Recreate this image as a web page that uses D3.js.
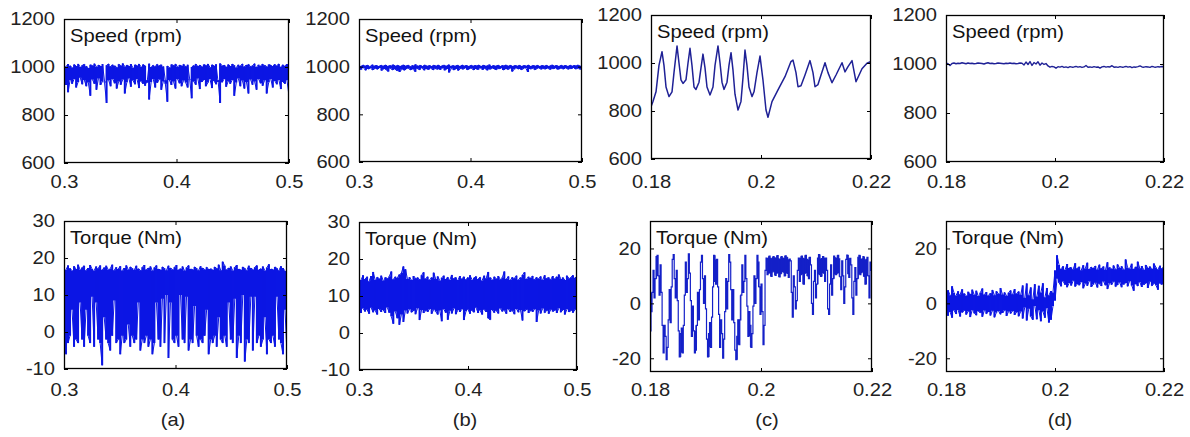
<!DOCTYPE html>
<html>
<head>
<meta charset="utf-8">
<script src="https://cdn.jsdelivr.net/npm/d3@7"></script>
<style>
  body { margin: 0; background: #fff; }
  svg { display: block; }
</style>
</head>
<body>
<svg id="fig" width="1190" height="437"></svg>
<script>
// ---------- axis ticks and labels ----------
const timeTicksAB = [0.3, 0.4, 0.5];
const timeTicksCD = [0.18, 0.2, 0.22];
const speedTicks = [600, 800, 1000, 1200];
const torqueTicksAB = [-10, 0, 10, 20, 30];
const torqueTicksCD = [-20, 0, 20];
const speedTitle = "Speed (rpm)";
const torqueTitle = "Torque (Nm)";
const caseLabels = ["(a)", "(b)", "(c)", "(d)"];

// ---------- (a) speed, per-sample max / min over 0.3 .. 0.5 s ----------
const speedA_hi = [
  1008,1002,1012,1005,998,1010,1004,1013,1000,1007,
  1011,1003,996,1009,1006,1014,1001,1008,1004,1012,
  940,1007,1013,1003,1009,1005,999,1011,1006,1015,
  1002,1008,1004,1012,997,1009,1006,1013,1001,1010,
  1005,935,1014,1000,1007,1003,1011,1006,1009,1002,
  945,1004,998,1010,1007,1013,1001,1008,1005,1011,
  1003,1009,950,1000,1006,1012,1004,1008,1002,1010,
  1007,1013,999,1009,1005,1011,938,1015,1006,1008,
  1001,1010,1004,1012,1007,998,1009,1005,1013,1002,
  1008,1011,1003,1006,1014,1000,1009,1005,1012,1007,
  1002,1010,1008,1004,1011,1006,1013,1001,1009,1005,
  1012,1003
];
const speedA_lo = [
  940,925,895,945,930,950,915,938,955,928,
  946,920,935,880,948,930,905,952,925,940,
  935,850,945,920,950,932,910,940,926,948,
  890,936,952,918,944,928,950,912,940,930,
  922,945,865,938,950,915,934,948,905,940,
  930,855,946,925,940,910,950,932,920,944,
  935,915,948,870,940,926,952,908,938,946,
  920,935,950,912,942,928,945,850,936,950,
  918,940,930,946,880,935,952,920,944,910,
  938,890,948,926,940,905,950,932,922,945,
  890,936,950,915,942,928,946,908,938,930,
  945,880
];

// ---------- (a) torque ----------
const torqueA_hi = [
  17.5,16.8,18.0,17.2,16.6,17.8,17.0,18.2,16.9,17.4,
  17.9,16.7,17.3,18.1,17.0,16.6,17.7,17.2,18.0,16.8,
  17.4,17.9,16.9,17.1,18.2,16.7,17.5,17.0,17.8,16.6,
  17.3,18.0,16.9,17.6,17.2,16.8,17.9,17.1,16.7,17.5,
  18.1,16.9,17.3,17.7,16.6,17.4,18.0,17.0,16.8,17.6,
  17.2,16.7,17.9,17.3,16.9,17.5,18.1,16.8,17.1,17.7,
  16.6,17.4,18.0,17.0,16.9,17.6,17.2,16.7,17.8,17.3,
  16.9,17.5,17.0,17.1,16.8,17.6,17.2,18.2,16.7,19.0,
  17.9,16.9,17.3,17.7,16.6,17.5,18.1,17.0,16.8,17.6,
  17.2,16.7,17.9,17.3,16.9,17.5,18.0,16.8,17.1,17.7,
  16.6,17.4,18.3,17.0,16.9,17.6,17.2,16.7,17.8,17.3,
  16.5,16.0
];
const torqueA_lo = [
  -2,-6,-3,-1,6,-4,-2,-3,8,-2,
  -4,6,-1,-3,9.5,-4,8,-2,-3,-9,
  4,-2,-3,-5,-1,8.5,-3,-2,-6,-1,
  -3,-2,2,-4,-1,-3,-2,8,-5,-2,
  -3,-1,-4,-2,-6,-3,8,-2,-4,9,
  -3,10,-7,8,-2,-3,-1,-4,10,-2,
  -3,9.5,-5,-2,-3,7,-1,-4,-2,-3,
  -1,6,-6,-2,-3,-1,-4,4,-2,-3,
  -1,-4,8,-2,-3,9,-7,-1,-3,10,
  -8,-2,-3,9.5,-5,9.5,-3,-1,-4,-2,
  4,-6,-2,-3,-1,-4,9.5,-2,-3,-6,
  6,-6
];

// ---------- (b) speed ----------
const speedB_hi = [
  1005,1003,1007,1004,1006,1002,1008,1004,1005,1003,
  1006,1004,1007,1003,1005,1008,1004,1006,1003,1005,
  1007,1004,1006,1002,1005,1009,1004,1006,1003,1007,
  1004,1005,1003,1006,1004,1007,1003,1005,1006,1004,
  1008,1003,1005,1004,1006,1003,1007,1004,1005,1003,
  1006,1004,1005,1007,1003,1006,1004,1005,1008,1003,
  1005,1004,1006,1003,1005,1007,1004,1006,1003,1005,
  1004,1006,1003,1005,1004,1007,1003,1005,1004,1006,
  1003,1005,1004,1006,1003,1005,1007,1004,1005,1003,
  1006,1004,1005,1003,1006,1004,1005,1007,1004,1005
];
const speedB_lo = [
  992,988,994,985,990,993,986,991,989,994,
  984,990,987,980,992,986,989,983,978,988,
  985,990,992,986,989,979,991,987,993,985,
  990,988,992,986,991,989,987,993,985,990,
  976,992,986,990,984,991,989,993,987,990,
  992,986,990,988,993,987,991,985,989,992,
  990,987,991,993,986,990,988,992,980,989,
  993,990,987,991,994,978,990,992,987,991,
  993,989,991,990,992,988,991,993,989,990,
  992,990,993,989,991,994,990,992,989,991
];

// ---------- (b) torque ----------
const torqueB_hi = [
  15.0,14.3,15.6,14.6,15.2,14.0,15.4,16.5,14.4,15.1,
  14.7,15.5,14.2,15.0,14.8,15.3,16.6,14.5,15.2,14.9,
  15.8,16.2,18.0,17.2,14.6,15.1,14.3,15.4,14.8,15.0,
  14.5,15.6,16.4,14.7,15.2,14.4,15.0,16.3,14.6,15.3,
  14.2,14.9,15.5,14.6,15.1,14.4,15.7,14.8,15.0,14.3,
  15.4,14.7,15.2,14.5,15.0,15.6,14.4,14.9,15.3,14.6,
  15.1,14.2,15.5,14.8,16.5,15.0,14.4,15.2,14.7,15.4,
  14.5,15.0,16.6,14.6,15.3,14.3,15.1,14.8,15.5,14.4,
  15.0,15.7,16.4,14.6,15.2,14.9,15.4,14.5,15.1,14.7,
  15.3,14.4,15.6,14.8,15.0,14.5,15.4,14.7,15.2,15.8,
  14.6,15.0,14.3,15.5,14.8,15.1,15.6,14.9,15.3
];
const torqueB_lo = [
  6.0,5.4,6.6,5.8,6.3,5.2,6.8,5.6,6.1,5.0,
  6.5,5.7,6.2,5.4,6.9,5.5,4.5,2.5,5.8,4.0,
  2.2,5.0,3.0,6.1,5.3,6.4,5.6,6.0,5.1,6.7,
  3.5,6.2,5.4,6.0,5.7,6.5,5.2,6.3,5.8,5.0,
  6.1,3.2,6.4,5.5,3.6,6.0,5.3,6.6,5.1,6.2,
  5.7,6.4,3.5,5.9,6.3,5.2,6.0,5.6,6.8,5.4,
  6.1,5.0,6.3,5.7,4.0,3.6,6.2,5.5,6.0,5.3,
  6.6,5.8,6.1,5.2,6.4,5.7,6.0,5.1,6.5,5.6,
  6.2,3.4,5.9,6.3,5.4,6.0,5.7,6.4,3.0,6.1,
  5.3,6.6,5.5,6.0,5.2,6.3,5.8,6.1,5.4,6.7,
  5.6,6.2,5.0,6.4,5.7,6.0,5.5,6.3,5.2
];

// ---------- (c) speed, sampled trace 0.18 .. 0.22 s ----------
const speedC_t = [
  0.18000,0.18036,0.18091,0.18145,0.18200,0.18236,0.18273,0.18327,0.18382,0.18418,
  0.18473,0.18509,0.18545,0.18582,0.18636,0.18673,0.18709,0.18745,0.18782,0.18818,
  0.18873,0.18909,0.18945,0.18982,0.19018,0.19073,0.19127,0.19164,0.19218,0.19255,
  0.19291,0.19327,0.19382,0.19418,0.19455,0.19491,0.19527,0.19582,0.19636,0.19673,
  0.19709,0.19745,0.19782,0.19836,0.19873,0.19927,0.19982,0.20036,0.20091,0.20127,
  0.20200,0.20309,0.20436,0.20545,0.20582,0.20636,0.20673,0.20727,0.20800,0.20891,
  0.20945,0.20982,0.21036,0.21091,0.21164,0.21218,0.21291,0.21364,0.21473,0.21527,
  0.21582,0.21655,0.21727,0.21836,0.21927,0.22000
];
const speedC_v = [
  818,840,880,990,1047,990,900,860,880,960,
  1071,1000,930,915,930,1000,1061,990,900,890,
  920,980,1037,980,900,867,900,990,1071,1000,
  920,890,920,990,1043,970,870,804,840,940,
  1054,990,900,860,880,960,1029,929,804,774,
  839,888,943,1006,1012,960,901,905,950,1010,
  960,901,910,950,1001,960,918,950,1001,963,
  985,1010,922,976,999,1006
];

// ---------- (c) torque ----------
const torqueC_hi = [
  -1,4,12,17,17.5,14,4,-8,-12,-6,
  5,16,17.8,12,1,-11,-9,3,15,18,
  11,-1,-10,-8,4,15,17.5,10,-2,-11,
  -7,6,17.5,16,6,-6,-11,-3,9,17.8,
  15,5,-7,-12,-6,3,14,17.5,9,-3,
  -8,-1,10,17.5,15,7,-3,12,16.5,17.2,
  16.4,17.0,16.6,17.4,16.2,17.0,16.5,17.3,16.8,16.1,
  15.5,10,6,12,16.5,17.2,16.4,17.5,16.0,16.8,
  14,8,12,16.5,17.8,16.3,17.0,16.5,12,7,
  14,17.2,16.6,17.5,16.2,15.5,10,16,17.6,16.4,
  14,8,13,16.8,17.5,16.2,17.0,16.0,16.8,15,
  12
];
const torqueC_lo = [
  -10,-3,2,9,10,3,-8,-18,-20.5,-16,
  -7,6,9,2,-10,-19.5,-18,-8,4,9,
  1,-12,-18,-17,-6,5,9,0,-13,-19.5,
  -16,-5,8,7,-4,-16,-20,-13,-2,8,
  5,-6,-17,-20.5,-15,-6,4,8,-1,-12,
  -16,-11,0,9,6,-4,-15,-8,10.5,11,
  9.8,11.5,10.2,11.0,9.6,10.8,11.4,10.0,10.9,9.5,
  4,-5,-2,1,8,10.5,7,11,10,9,
  0,-4,2,7,10.5,9.8,11,8,-2,-4,
  3,9,10.5,11,9.7,5,0,6,10.8,9.5,
  2,-4,3,9,10.5,11.2,9.8,7,10,2,
  -3
];

// ---------- (d) speed ----------
const speedD_v = [
  1003,1001,994,
  1002,1004,1001,1003,1002,1005,1003,1001,1004,1002,1003,1001,1002,1004,1003,1002,1000,1003,
  1005,1002,1003,1001,1002,1004,1003,1002,1001,1003,1002,1004,1002,1003,1001,1002,1004,1003,
  996,1008,998,1010,994,1006,1000,1009,995,1004,998,1002,
  992,987,990,
  988,983,989,987,990,986,988,985,989,987,
  988,990,987,989,986,988,994,987,988,986,
  989,987,988,983,988,990,987,989,988,993,
  987,988,986,989,987,988,990,987,989,985,
  988,987,989,992,988,987,989,988,986,990,
  988,987,989,988,990,989
];

// ---------- (d) torque ----------
const torqueD_hi = [
  3.5,4.8,3.0,6.2,3.8,2.9,4.4,3.3,5.1,3.6,
  2.8,4.2,3.4,5.0,3.1,4.6,2.7,3.9,5.4,3.2,
  4.1,2.9,3.7,4.9,3.0,4.4,3.5,5.6,3.2,4.0,
  2.8,3.9,4.7,3.3,5.2,3.6,4.3,3.1,
  6.5,2.0,7.2,3.0,5.8,1.5,7.0,2.5,6.4,4.0,7.3,2.2,5.6,3.0,4.5,
  4,12,17.5,
  14.0,12.6,13.5,12.2,14.3,12.9,13.1,12.4,14.6,12.8,
  13.3,12.1,13.9,12.7,14.8,12.5,13.2,12.9,13.6,12.3,
  14.1,12.8,13.4,12.2,15.0,13.1,12.6,13.8,12.4,14.2,
  12.9,13.5,12.3,16.0,13.0,12.7,14.4,12.5,13.3,15.2,
  12.8,13.6,12.2,14.0,12.9,13.4,12.6,14.5,13.1,12.4,
  13.7,12.8,13.2
];
const torqueD_lo = [
  -2.8,-4.5,-3.1,-5.2,-2.6,-3.9,-2.4,-4.8,-3.3,-2.7,
  -4.1,-3.0,-5.0,-2.5,-3.6,-4.3,-2.9,-3.4,-4.9,-2.6,
  -3.8,-3.1,-4.4,-2.7,-5.1,-3.3,-2.8,-4.0,-3.5,-2.6,
  -4.6,-3.0,-3.7,-2.8,-4.2,-3.2,-4.7,-3.0,
  -5.5,-1.5,-6.2,-2.0,-4.8,-6.0,-1.0,-5.8,-2.5,-6.5,-3.0,-5.2,-1.8,-7.0,-6.0,
  -1,1,9,
  7.5,6.2,8.0,6.8,5.9,7.4,6.5,8.2,6.1,7.0,
  6.6,7.8,5.5,7.2,6.4,8.1,6.0,6.9,7.5,5.8,
  7.1,6.3,8.0,6.6,5.2,7.3,6.8,7.9,6.1,6.7,
  7.6,5.9,6.9,7.4,6.2,8.1,6.5,4.6,7.0,6.3,
  7.7,6.0,6.8,7.3,5.6,7.9,6.4,7.1,6.6,5.0,
  7.2,6.9,4.8
];

// ---------- figure layout ----------
const FONT = '"Liberation Sans", Arial, Helvetica, sans-serif';
const FONT_SIZE = 18;
const STRETCH = 1.12;          // glyphs are drawn slightly wide
const DENSE = "#0c16e4";
const THIN = "#1f2196";

const svg = d3.select("#fig");
let clipId = 0;

// Evenly spaced samples of a fast signal, stored as each sample's max / min.
function bandRows(hi, lo, t0, t1) {
  const n = hi.length;
  return hi.map((h, i) => ({ t: t0 + (t1 - t0) * i / (n - 1), hi: h, lo: lo[i] }));
}
// Zig-zag through max and min of every sample, the way the trace sweeps on screen.
function zigzag(rows) {
  const pts = [];
  rows.forEach((r, i) => {
    if (i % 2 === 0) pts.push([r.t, r.hi], [r.t, r.lo]);
    else pts.push([r.t, r.lo], [r.t, r.hi]);
  });
  return pts;
}
function samplePoints(vals, t0, t1) {
  return vals.map((v, i) => [t0 + (t1 - t0) * i / (vals.length - 1), v]);
}
function tracePoints(ts, vs) {
  return ts.map((t, i) => [t, vs[i]]);
}

function drawPanel(p) {
  const { box, xDom, yDom, xTicks, yTicks, title, series, xLabelY } = p;
  const x = d3.scaleLinear().domain(xDom).range([box.l, box.r]);
  const y = d3.scaleLinear().domain(yDom).range([box.b, box.t]);
  const g = svg.append("g");

  const cid = "clip" + (clipId++);
  g.append("clipPath").attr("id", cid).append("rect")
    .attr("x", box.l).attr("y", box.t - 1)
    .attr("width", box.r - box.l).attr("height", box.b - box.t + 2);
  const plot = g.append("g").attr("clip-path", `url(#${cid})`);

  if (series.rows) {
    // solid fill where the trace oscillates densely; swings wider than
    // maxSpread are left to the trace itself
    const maxSpread = series.maxSpread || Infinity;
    plot.append("path")
      .datum(series.rows)
      .attr("fill", series.color)
      .attr("stroke", "none")
      .attr("d", d3.area().curve(d3.curveStep)
        .defined(d => d.hi - d.lo <= maxSpread)
        .x(d => x(d.t)).y0(d => y(d.lo)).y1(d => y(d.hi)));
    plot.append("path")
      .datum(zigzag(series.rows))
      .attr("fill", "none")
      .attr("stroke", series.color)
      .attr("stroke-width", series.width)
      .attr("d", d3.line().curve(series.stepped ? d3.curveStep : d3.curveLinear)
        .x(d => x(d[0])).y(d => y(d[1])));
  } else {
    plot.append("path")
      .datum(series.pts)
      .attr("fill", "none")
      .attr("stroke", series.color)
      .attr("stroke-width", series.width)
      .attr("stroke-linejoin", "round")
      .attr("d", d3.line().x(d => x(d[0])).y(d => y(d[1])));
  }

  const styleAxis = sel => {
    sel.attr("color", "#000").attr("font-family", FONT).attr("font-size", FONT_SIZE);
    sel.select(".domain").remove();
    sel.selectAll("line").attr("stroke-width", 1);
  };

  // bottom axis with labels
  const pad = xLabelY - box.b - 6.4;
  g.append("g").attr("transform", `translate(0,${box.b})`)
    .call(d3.axisBottom(x).tickValues(xTicks).tickSizeInner(-4).tickSizeOuter(0)
      .tickPadding(pad).tickFormat(d => String(d)))
    .call(styleAxis)
    .call(s => s.selectAll("text").attr("fill", "#222").attr("transform", `scale(${STRETCH},1)`));
  // top axis ticks
  g.append("g").attr("transform", `translate(0,${box.t})`)
    .call(d3.axisTop(x).tickValues(xTicks).tickSizeInner(-4).tickSizeOuter(0).tickFormat(""))
    .call(styleAxis);
  // left axis with labels
  g.append("g").attr("transform", `translate(${box.l},0)`)
    .call(d3.axisLeft(y).tickValues(yTicks).tickSizeInner(-4).tickSizeOuter(0)
      .tickPadding(8).tickFormat(d => String(d)))
    .call(styleAxis)
    .call(s => s.selectAll("text").attr("fill", "#222").attr("transform", `scale(${STRETCH},1)`));
  // right axis ticks
  g.append("g").attr("transform", `translate(${box.r},0)`)
    .call(d3.axisRight(y).tickValues(yTicks).tickSizeInner(-4).tickSizeOuter(0).tickFormat(""))
    .call(styleAxis);

  // frame
  g.append("rect")
    .attr("x", box.l + 0.5).attr("y", box.t + 0.5)
    .attr("width", box.r - box.l - 1).attr("height", box.b - box.t - 1)
    .attr("fill", "none").attr("stroke", "#000").attr("stroke-width", 1.3);

  // in-plot title
  g.append("text")
    .attr("transform", `translate(${box.l + 6},${box.t + 23}) scale(${STRETCH},1)`)
    .attr("font-family", FONT).attr("font-size", FONT_SIZE).attr("fill", "#111")
    .text(title);
}

const cols = [
  { top: { l: 64, r: 289, t: 19, b: 163 }, bot: { l: 64, r: 287, t: 221, b: 369 }, labX: 173,
    xDom: [0.3, 0.5], xTicks: timeTicksAB, tqDom: [-10, 30], tqTicks: torqueTicksAB,
    speed: { rows: bandRows(speedA_hi, speedA_lo, 0.3, 0.5), color: DENSE, width: 1 },
    torque: { rows: bandRows(torqueA_hi, torqueA_lo, 0.3, 0.5), color: DENSE, width: 1 } },
  { top: { l: 359, r: 582, t: 19, b: 162 }, bot: { l: 359, r: 577, t: 222, b: 370 }, labX: 465,
    xDom: [0.3, 0.5], xTicks: timeTicksAB, tqDom: [-10, 30], tqTicks: torqueTicksAB,
    speed: { rows: bandRows(speedB_hi, speedB_lo, 0.3, 0.5), color: DENSE, width: 1 },
    torque: { rows: bandRows(torqueB_hi, torqueB_lo, 0.3, 0.5), color: DENSE, width: 1 } },
  { top: { l: 651, r: 871, t: 15, b: 159 }, bot: { l: 650, r: 872, t: 221, b: 372 }, labX: 767,
    xDom: [0.18, 0.22], xTicks: timeTicksCD, tqDom: [-25, 30], tqTicks: torqueTicksCD,
    speed: { pts: tracePoints(speedC_t, speedC_v), color: THIN, width: 1.5 },
    torque: { rows: bandRows(torqueC_hi, torqueC_lo, 0.18, 0.22), color: "#1420c8", width: 1.2,
              stepped: true, maxSpread: 9.5 } },
  { top: { l: 946, r: 1164, t: 15, b: 162 }, bot: { l: 946, r: 1164, t: 221, b: 372 }, labX: 1060,
    xDom: [0.18, 0.22], xTicks: timeTicksCD, tqDom: [-25, 30], tqTicks: torqueTicksCD,
    speed: { pts: samplePoints(speedD_v, 0.18, 0.22), color: THIN, width: 1.4 },
    torque: { rows: bandRows(torqueD_hi, torqueD_lo, 0.18, 0.22), color: DENSE, width: 1 } }
];

cols.forEach((c, i) => {
  drawPanel({ box: c.top, xDom: c.xDom, yDom: [600, 1200], xTicks: c.xTicks, yTicks: speedTicks,
    title: speedTitle, series: c.speed, xLabelY: 182 });
  drawPanel({ box: c.bot, xDom: c.xDom, yDom: c.tqDom, xTicks: c.xTicks, yTicks: c.tqTicks,
    title: torqueTitle, series: c.torque, xLabelY: 390 });
  svg.append("text")
    .attr("transform", `translate(${c.labX},426) scale(${STRETCH},1)`)
    .attr("text-anchor", "middle")
    .attr("font-family", FONT).attr("font-size", FONT_SIZE).attr("fill", "#222")
    .text(caseLabels[i]);
});
</script>
</body>
</html>
